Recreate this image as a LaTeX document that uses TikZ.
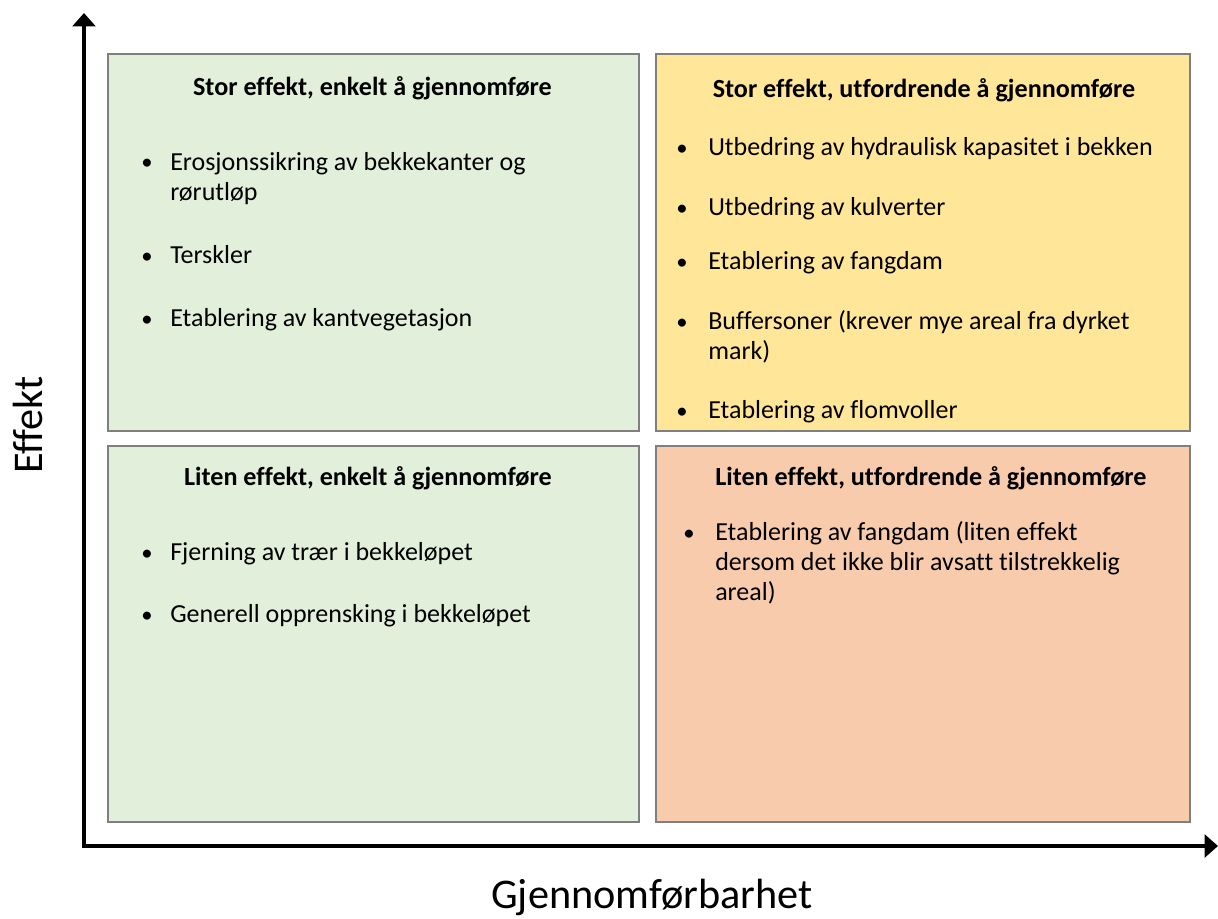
\documentclass[tikz,border=0pt]{standalone}
\usepackage{fontspec}
\setmainfont{Carlito}[Ligatures=NoCommon]
\usepackage{tikz}
\usetikzlibrary{arrows.meta, positioning}
\definecolor{easygreen}{HTML}{E2EFDA}
\definecolor{hardyellow}{HTML}{FFE699}
\definecolor{hardorange}{HTML}{F8CBAD}
\definecolor{boxline}{HTML}{7F7F7F}

\begin{document}
\begin{tikzpicture}[x=0.75pt,y=-0.75pt,
  quad/.style={draw=boxline, line width=1.5pt, anchor=north west, inner sep=0pt},
  head/.style={font=\bfseries\fontsize{19.6}{22.5}\selectfont, anchor=base, inner sep=0pt},
  dotmark/.style={font=\fontsize{17}{22.5}\selectfont, anchor=base west, inner sep=0pt},
  entry/.style={font=\fontsize{19.5}{22.5}\selectfont, anchor=base west, inner sep=0pt, align=left},
  axis/.style={line width=3.4pt, line join=miter,
    {Triangle[length=10pt,width=17pt]}-{Triangle[length=10pt,width=17pt]}},
  axislabel/.style={font=\fontsize{31.7}{36}\selectfont, anchor=base, inner sep=0pt}]
\useasboundingbox (0,0) rectangle (1218,918);

% the four quadrants
\node[quad, fill=easygreen, minimum width=398.25pt, minimum height=282.75pt] (bigeasy) at (107,53) {};
\node[quad, fill=hardyellow, minimum width=400.5pt, minimum height=282.75pt] (bighard) at (655,53) {};
\node[quad, fill=easygreen, minimum width=398.25pt, minimum height=282pt] (smalleasy) at (107,445) {};
\node[quad, fill=hardorange, minimum width=400.5pt, minimum height=282pt] (smallhard) at (655,445) {};

% headings
\node[head] (bigeasyhead) at (372.5,95) {Stor effekt, enkelt å gjennomføre};
\node[head] (bighardhead) at (924,97) {Stor effekt, utfordrende å gjennomføre};
\node[head] (smalleasyhead) at (368,485) {Liten effekt, enkelt å gjennomføre};
\node[head, anchor=base west] (smallhardhead) at (715,485) {Liten effekt, utfordrende å gjennomføre};

% bullets
\foreach \y in {169,263,326,560,622}
  \node[dotmark] (dotL\y) at (141,\y) {\textbullet};
\foreach \y in {155,215,269,329,418}
  \node[dotmark] (dotR\y) at (676,\y) {\textbullet};
\node[dotmark] (dotS540) at (683,540) {\textbullet};

% items (multi-line ones sit on their last line)
\node[entry] (erosjon) at (170,200) {Erosjonssikring av bekkekanter og\\rørutløp};
\node[entry] (terskler) at (170,263) {Terskler};
\node[entry] (kantveg) at (170,326) {Etablering av kantvegetasjon};
\node[entry] (hydraulisk) at (708,155) {Utbedring av hydraulisk kapasitet i bekken};
\node[entry] (kulverter) at (708,215) {Utbedring av kulverter};
\node[entry] (fangdam) at (708,269) {Etablering av fangdam};
\node[entry] (buffer) at (708,359) {Buffersoner (krever mye areal fra dyrket\\mark)};
\node[entry] (flomvoller) at (708,418) {Etablering av flomvoller};
\node[entry] (traer) at (170,560) {Fjerning av trær i bekkeløpet};
\node[entry] (opprensk) at (170,622) {Generell opprensking i bekkeløpet};
\node[entry] (fangdamsmall) at (715,600) {Etablering av fangdam (liten effekt\\dersom det ikke blir avsatt tilstrekkelig\\areal)};

% axes
\coordinate (ytip) at (84,13);
\coordinate (origin) at (84,846);
\coordinate (xtip) at (1218,846);
\draw[axis] (ytip) -- (origin) -- (xtip);
\node[axislabel] (xlabel) at (652,908) {Gjennomførbarhet};
\node[axislabel, rotate=90] (ylabel) at (42,425) {Effekt};
\end{tikzpicture}
\end{document}
